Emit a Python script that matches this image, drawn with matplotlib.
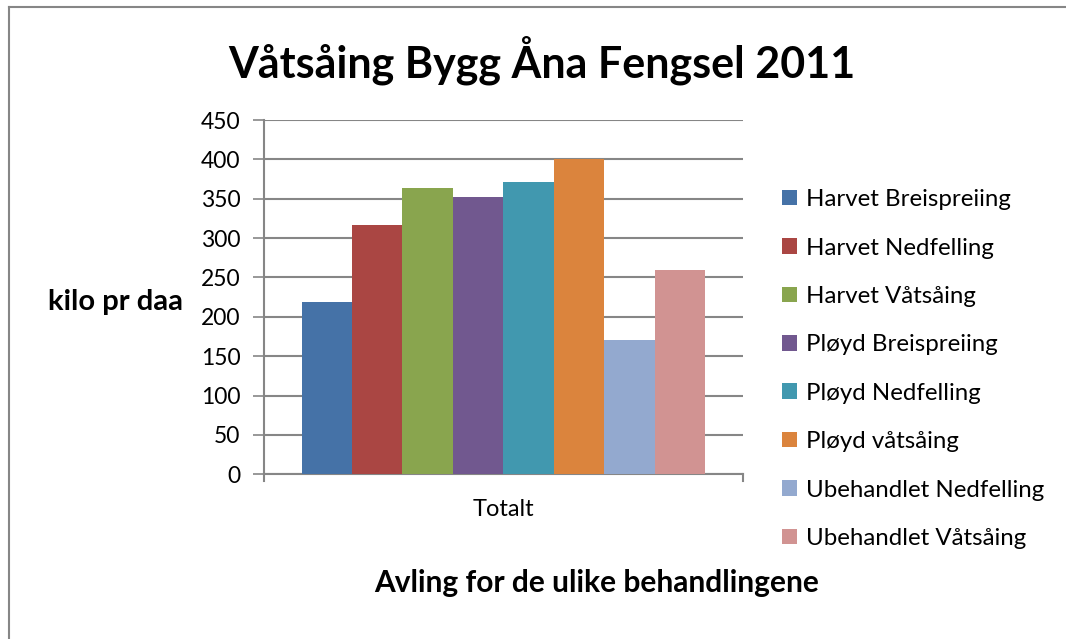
import matplotlib.pyplot as plt
from matplotlib.lines import Line2D

plt.rcParams['font.family'] = ['Lato', 'DejaVu Sans']

# data
series = ['Harvet Breispreiing', 'Harvet Nedfelling', 'Harvet Våtsåing',
          'Pløyd Breispreiing', 'Pløyd Nedfelling', 'Pløyd våtsåing',
          'Ubehandlet Nedfelling', 'Ubehandlet Våtsåing']
values = [219, 317, 364, 352, 371, 400, 171, 260]
colors = ['#4572A7', '#AA4643', '#89A54E', '#71588F',
          '#4198AF', '#DB843D', '#93A9CF', '#D19392']
category = 'Totalt'

fig = plt.figure(figsize=(10.66, 6.39), dpi=100)
ax = fig.add_axes([0.2477, 0.2577, 0.449, 0.5545])

n = len(values)
group = 0.843
w = group / n
for i, (name, v, c) in enumerate(zip(series, values, colors)):
    x = -group / 2 + w * (i + 0.5)
    ax.bar(x, v, width=w, color=c, label=name, zorder=3)

ax.set_xlim(-0.5, 0.5)
ax.set_ylim(0, 450)
ax.set_yticks(range(0, 451, 50))
ax.set_xticks([0])
ax.set_xticklabels([category])
ax.yaxis.grid(True, color='#868686', linewidth=1.5, zorder=0)
ax.set_axisbelow(True)

for s in ['top', 'right']:
    ax.spines[s].set_visible(False)
ax.spines['left'].set_color('#868686')
ax.spines['bottom'].set_color('#868686')
ax.spines['left'].set_linewidth(1.5)
ax.spines['bottom'].set_linewidth(1.5)
ax.tick_params(axis='y', direction='out', length=8, width=1.2, color='#868686',
               labelsize=16.5, pad=9)
ax.tick_params(axis='x', length=0, labelsize=17, pad=18)
# end ticks on the x axis
for xe in (-0.5, 0.5):
    ax.plot([xe, xe], [0, -8], color='#868686', lw=1.5, clip_on=False)

fig.text(0.5085, 0.905, 'Våtsåing Bygg Åna Fengsel 2011', ha='center', va='center',
         fontsize=31, fontweight='bold')
fig.text(0.1085, 0.528, 'kilo pr daa', ha='center', va='center',
         fontsize=21, fontweight='bold')
fig.text(0.5595, 0.087, 'Avling for de ulike behandlingene', ha='center', va='center',
         fontsize=21.5, fontweight='bold')

fig.legend(loc='upper left', bbox_to_anchor=(0.725, 0.719), frameon=False,
           fontsize=17.3, handlelength=0.62, handleheight=0.62, handletextpad=0.35,
           labelspacing=1.14, borderaxespad=0)

# outer chart border
fig.add_artist(Line2D([0.008, 0.008], [0, 0.989], color='#868686', lw=1.5))
fig.add_artist(Line2D([0.008, 1.0], [0.989, 0.989], color='#868686', lw=1.5))

fig.savefig('out.png', dpi=100)
